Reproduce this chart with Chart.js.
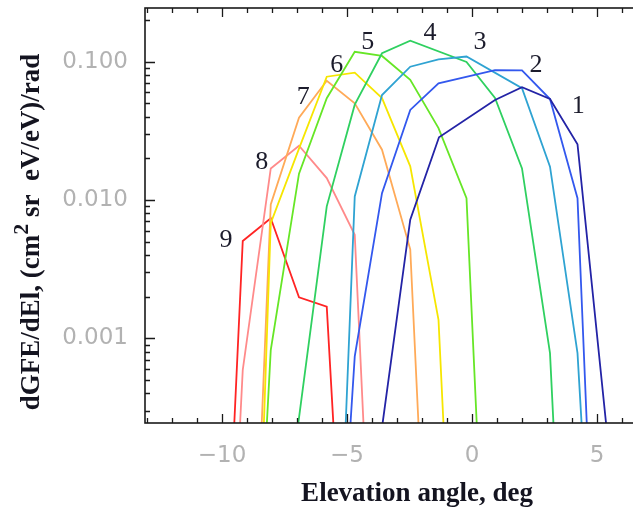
<!DOCTYPE html>
<html>
<head>
<meta charset="utf-8">
<script src="https://cdn.jsdelivr.net/npm/chart.js@4"></script>
<style>
  html, body { margin: 0; padding: 0; background: #fff; }
  #wrap { width: 633px; height: 508px; }
</style>
</head>
<body>
<div id="wrap"><canvas id="gfeChart"></canvas></div>
<script>
// elevation (deg) and dGFE/dEl values per curve
const elev1 = [-3.64, -2.47, -1.32, 0.92, 2.0, 3.12, 4.22, 5.41];
const gfe1  = [0.0002, 0.0072, 0.0284, 0.0528, 0.0653, 0.0538, 0.0253, 0.0002];
const elev2 = [-4.89, -4.69, -3.6, -2.47, -1.34, 0.92, 2.0, 3.12, 4.22, 4.61];
const gfe2  = [0.0002, 0.00074, 0.0112, 0.0448, 0.0698, 0.087, 0.0865, 0.0537, 0.0103, 0.0002];
const elev3 = [-5.07, -4.69, -3.6, -2.47, -1.34, -0.22, 2.0, 3.12, 4.22, 4.41];
const gfe3  = [0.0002, 0.0106, 0.0574, 0.092, 0.104, 0.109, 0.0643, 0.0174, 0.00078, 0.0002];
const elev4 = [-7.01, -5.81, -4.69, -3.6, -2.47, -0.22, 0.92, 2.0, 3.12, 3.28];
const gfe4  = [0.0002, 0.009, 0.0489, 0.115, 0.142, 0.0996, 0.0547, 0.0169, 0.00078, 0.0002];
const elev5 = [-8.23, -8.05, -6.92, -5.81, -4.69, -3.6, -2.47, -1.34, -0.22, 0.21];
const gfe5  = [0.0002, 0.00082, 0.0155, 0.0544, 0.118, 0.11, 0.074, 0.0331, 0.0103, 0.0002];
const elev6 = [-8.34, -8.05, -6.92, -5.81, -4.69, -3.6, -2.47, -1.34, -1.12];
const gfe6  = [0.0002, 0.0068, 0.0235, 0.0779, 0.0833, 0.0546, 0.0175, 0.00136, 0.0002];
const elev7 = [-8.43, -8.05, -6.92, -5.81, -4.69, -3.6, -2.47, -2.12];
const gfe7  = [0.0002, 0.0093, 0.0394, 0.0729, 0.05, 0.0231, 0.0044, 0.0002];
const elev8 = [-9.3, -9.17, -8.05, -6.92, -5.81, -4.69, -4.32];
const gfe8  = [0.0002, 0.00059, 0.0169, 0.0247, 0.0144, 0.0056, 0.0002];
const elev9 = [-9.53, -9.17, -8.05, -6.92, -5.81, -5.52];
const gfe9  = [0.0002, 0.00505, 0.00738, 0.00198, 0.00169, 0.0002];

const curveNames = ['1', '2', '3', '4', '5', '6', '7', '8', '9'];
const xTicks = [-10, -5, 0, 5];
const yTicks = [0.001, 0.01, 0.1];
// where each curve number sits (data units)
const tagElev = [4.25, 2.56, 0.32, -1.68, -4.17, -5.41, -6.75, -8.41, -9.84];
const tagGfe  = [0.048, 0.095, 0.1395, 0.16, 0.1395, 0.095, 0.0558, 0.0189, 0.00513];

const colors = ['#2323a6', '#3358ee', '#2fa3d2', '#2fd060', '#66e626',
                '#f6e600', '#ffaa58', '#ff8a8a', '#ff2424'];

const allElev = [elev1, elev2, elev3, elev4, elev5, elev6, elev7, elev8, elev9];
const allGfe  = [gfe1, gfe2, gfe3, gfe4, gfe5, gfe6, gfe7, gfe8, gfe9];

const datasets = curveNames.map((name, i) => ({
    label: name,
    data: allElev[i].map((x, j) => ({ x: x, y: allGfe[i][j] })),
    borderColor: colors[i],
    backgroundColor: colors[i],
    borderWidth: 1.8,
    pointRadius: 0,
    tension: 0,
    fill: false
}));

const SERIF = '"Liberation Serif", "Times New Roman", serif';

const frameTicks = {
    id: 'frameTicks',
    afterDatasetsDraw(chart) {
        const { ctx, chartArea: a, scales: { x, y } } = chart;
        ctx.save();
        ctx.strokeStyle = '#1a1a1a';
        ctx.lineWidth = 1.3;
        ctx.beginPath();
        for (let v = Math.ceil(x.min); v <= x.max; v++) {
            const px = Math.round(x.getPixelForValue(v)) + 0.5;
            const len = v % 5 === 0 ? 9 : 5;
            ctx.moveTo(px, a.bottom); ctx.lineTo(px, a.bottom - len);
            ctx.moveTo(px, a.top); ctx.lineTo(px, a.top + len);
        }
        for (let e = -4; e <= 0; e++) {
            for (let m = 1; m <= 9; m++) {
                const v = m * Math.pow(10, e);
                if (v < y.min || v > y.max) continue;
                const py = Math.round(y.getPixelForValue(v)) + 0.5;
                ctx.moveTo(a.left, py); ctx.lineTo(a.left + (m === 1 ? 10 : 5), py);
            }
        }
        ctx.stroke();
        ctx.lineWidth = 1.6;
        ctx.strokeRect(a.left, a.top, a.right - a.left + 4, a.bottom - a.top);

        // curve numbers
        ctx.fillStyle = '#1c1c2c';
        ctx.font = '26px ' + SERIF;
        ctx.textAlign = 'center';
        ctx.textBaseline = 'middle';
        curveNames.forEach((n, i) => {
            ctx.fillText(n, x.getPixelForValue(tagElev[i]), y.getPixelForValue(tagGfe[i]));
        });

        // axis titles
        ctx.fillStyle = '#141420';
        ctx.font = 'bold 27px ' + SERIF;
        ctx.fillText('Elevation angle, deg', 417, 494);

        const partA = 'dGFE/dEl, (cm';
        const partB = ' sr  eV/eV)/rad';
        const mainFont = 'bold 27px ' + SERIF;
        const supFont = 'bold 22px ' + SERIF;
        ctx.font = mainFont;
        const wA = ctx.measureText(partA).width;
        const wB = ctx.measureText(partB).width;
        ctx.font = supFont;
        const wS = ctx.measureText('2').width;
        const total = wA + wS + wB;
        ctx.translate(32, 232);
        ctx.rotate(-Math.PI / 2);
        ctx.textAlign = 'left';
        ctx.font = mainFont;
        ctx.fillText(partA, -total / 2, 0);
        ctx.font = supFont;
        ctx.fillText('2', -total / 2 + wA, -10);
        ctx.font = mainFont;
        ctx.fillText(partB, -total / 2 + wA + wS, 0);
        ctx.restore();
    }
};

new Chart(document.getElementById('gfeChart'), {
    type: 'line',
    data: { datasets: datasets },
    options: {
        responsive: true,
        maintainAspectRatio: false,
        animation: false,
        layout: { padding: { top: 8, right: 0, bottom: 0, left: 0 } },
        plugins: { legend: { display: false }, tooltip: { enabled: false } },
        scales: {
            x: {
                type: 'linear',
                min: -13.08,
                max: 6.44,
                grid: { display: false, drawTicks: false },
                border: { display: false },
                afterFit: s => { s.height = 85; s.paddingLeft = 0; s.paddingRight = 0; },
                afterBuildTicks: s => { s.ticks = xTicks.map(v => ({ value: v })); },
                ticks: {
                    padding: 19,
                    color: '#b2b2b2',
                    font: { family: '"DejaVu Sans", sans-serif', size: 23 },
                    callback: v => (v < 0 ? '\u2212' + Math.abs(v) : String(v))
                }
            },
            y: {
                type: 'logarithmic',
                min: 0.000244,
                max: 0.2445,
                grid: { display: false, drawTicks: false },
                border: { display: false },
                afterFit: s => { s.width = 145; s.paddingTop = 0; s.paddingBottom = 0; },
                afterBuildTicks: s => { s.ticks = yTicks.map(v => ({ value: v })); },
                ticks: {
                    padding: 17,
                    color: '#b2b2b2',
                    font: { family: '"DejaVu Sans", sans-serif', size: 23 },
                    callback: v => Number(v).toFixed(3)
                }
            }
        }
    },
    plugins: [frameTicks]
});
</script>
</body>
</html>
